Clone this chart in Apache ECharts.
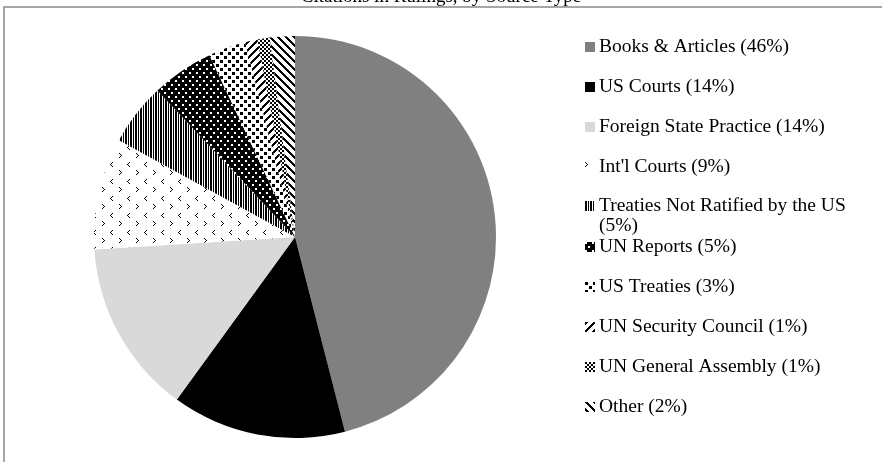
<!DOCTYPE html>
<html>
<head>
<meta charset="utf-8">
<script src="https://cdn.jsdelivr.net/npm/echarts@6/dist/echarts.min.js"></script>
<style>
  html, body { margin: 0; padding: 0; background: #fff; }
  #chart { width: 882px; height: 462px; }
</style>
</head>
<body>
<div id="chart"></div>
<script>
// source types, clockwise from 12 o'clock
var sourceTypes = [
    'Books & Articles',
    'US Courts',
    'Foreign State Practice',
    "Int'l Courts",
    'Treaties Not Ratified by the US',
    'UN Reports',
    'US Treaties',
    'UN Security Council',
    'UN General Assembly',
    'Other'
];
// share of citations, percent
var shares = [46, 14, 14, 9, 5, 5, 3, 1, 1, 2];

var titleText = 'Citations in Rulings, by Source Type';

// small pattern tiles, like the Excel pattern fills
function tile(w, h, bg, fg, isOn) {
    var c = document.createElement('canvas');
    c.width = w;
    c.height = h;
    var ctx = c.getContext('2d');
    ctx.fillStyle = bg;
    ctx.fillRect(0, 0, w, h);
    ctx.fillStyle = fg;
    for (var y = 0; y < h; y++) {
        for (var x = 0; x < w; x++) {
            if (isOn(x, y)) ctx.fillRect(x, y, 1, 1);
        }
    }
    return { image: c, repeat: 'repeat' };
}

function chevrons(x, y) {
    // ">" at (0,0) and "<" at (8,9)
    var gt = [[0, 0], [1, 1], [2, 2], [1, 3], [0, 4]];
    var lt = [[10, 9], [9, 10], [8, 11], [9, 12], [10, 13]];
    return gt.concat(lt).some(function (p) { return p[0] === x && p[1] === y; });
}

var fills = [
    '#808080',
    '#000000',
    '#d9d9d9',
    tile(17, 17, '#fff', '#000', chevrons),
    tile(5, 1, '#fff', '#000', function (x) { return x === 0 || x === 1 || x === 3; }),
    tile(7, 8, '#000', '#fff', function (x, y) {
        return (x < 2 && y < 2) || (x >= 3 && x < 5 && y >= 4 && y < 6);
    }),
    tile(8, 8, '#fff', '#000', function (x, y) {
        return (x < 3 && y < 3) || (x >= 4 && x < 7 && y >= 4 && y < 7);
    }),
    tile(8, 8, '#fff', '#000', function (x, y) { return (x + y) % 8 < 3; }),
    tile(4, 4, '#fff', '#000', function (x, y) { return ((x >> 1) + (y >> 1)) % 2 === 0; }),
    tile(8, 8, '#fff', '#000', function (x, y) { return ((x - y) % 8 + 8) % 8 < 3; })
];

var fontFamily = '"Liberation Serif", "DejaVu Serif", serif';

var pieData = sourceTypes.map(function (name, i) {
    return { name: name, value: shares[i], itemStyle: { color: fills[i] } };
});

// one legend per row so the wrapped row keeps the 40px rhythm
var legends = sourceTypes.map(function (name, i) {
    var label = name + ' (' + shares[i] + '%)';
    var wraps = label.length > 30;
    var rowMid = 46 + i * 40;
    return {
        data: [name],
        left: 585,
        // wrapped row: a blank first line keeps line one level with the icon
        top: rowMid - (wraps ? 30 : 9),
        padding: 0,
        itemWidth: 10,
        itemHeight: 10,
        itemGap: 0,
        icon: 'rect',
        selectedMode: false,
        formatter: function () { return wraps ? '\n' + label : label; },
        textStyle: {
            fontFamily: fontFamily,
            fontSize: 19.5,
            color: '#000',
            width: 275,
            overflow: 'break',
            lineHeight: wraps ? 20 : 18,
            padding: [0, 0, 0, -1]
        }
    };
});

var chart = echarts.init(document.getElementById('chart'), null, { renderer: 'canvas' });

chart.setOption({
    animation: false,
    backgroundColor: '#fff',
    title: {
        text: titleText,
        left: 'center',
        top: -17,
        padding: 5,
        textStyle: { fontFamily: fontFamily, fontSize: 19, fontWeight: 'normal', color: '#000' }
    },
    graphic: [{
        type: 'polyline',
        z: -1,
        shape: { points: [[4, 480], [4, 7], [900, 7]] },
        style: { fill: 'none', stroke: '#a6a6a6', lineWidth: 2 }
    }],
    legend: legends,
    series: [{
        type: 'pie',
        center: [295, 237],
        radius: 201,
        startAngle: 90,
        clockwise: true,
        label: { show: false },
        labelLine: { show: false },
        emphasis: { disabled: true },
        itemStyle: { borderWidth: 0 },
        data: pieData
    }]
});
</script>
</body>
</html>
